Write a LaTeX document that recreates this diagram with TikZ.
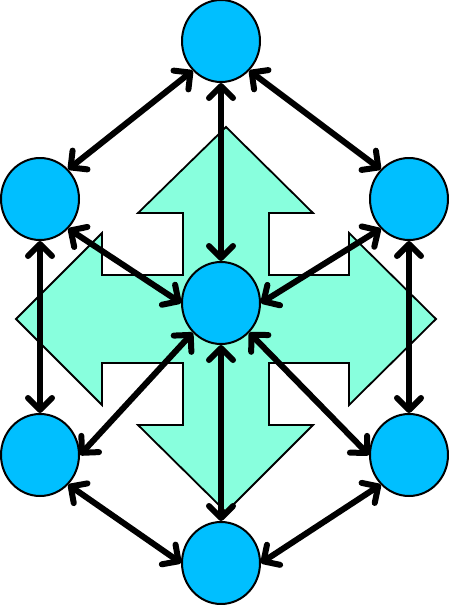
\documentclass[tikz,border=0pt]{standalone}
\usetikzlibrary{shapes.geometric,arrows.meta}
\definecolor{bubble}{RGB}{0,191,255}
\definecolor{aqua}{RGB}{136,255,221}
\tikzset{
  bubble/.style={ellipse,draw=black,line width=2pt,fill=bubble,minimum width=78pt,minimum height=82pt,inner sep=0pt},
  barb/.tip={Straight Barb[length=12pt,width=24pt,line width=6pt,line cap=round,line join=round]},
  link/.style={line width=6pt,line cap=round,line join=round,barb-barb},
  bigarrow/.style={fill=aqua,draw=black,line width=1.8pt,line join=miter}
}
\begin{document}
\begin{tikzpicture}[x=1pt,y=-1pt]
\useasboundingbox (0,0) rectangle (449,605);
\draw[bigarrow] (226,127) -- (313,213) -- (269,213) -- (269,275) -- (349,275) -- (349,233)
  -- (436,319) -- (349,405) -- (349,363) -- (269,363) -- (269,425) -- (313,425)
  -- (226,512) -- (138,425) -- (183,425) -- (183,363) -- (102,363) -- (102,405)
  -- (16,319) -- (102,233) -- (102,275) -- (183,275) -- (183,213) -- (138,213) -- cycle;
\node[bubble] (t) at (221,41) {};
\node[bubble] (lt) at (40,199) {};
\node[bubble] (rt) at (409,199) {};
\node[bubble] (c) at (221,303) {};
\node[bubble] (lb) at (40,455) {};
\node[bubble] (rb) at (409,455) {};
\node[bubble] (b) at (221,563) {};
\draw[link] (t.south west) -- (lt.north east);
\draw[link] (t.south east) -- (rt.north west);
\draw[link] (t.south) -- (c.north);
\draw[link] (lt.south) -- (lb.north);
\draw[link] (rt.south) -- (rb.north);
\draw[link] (lt.south east) -- (c.west);
\draw[link] (rt.south west) -- (c.east);
\draw[link] (c.south west) -- (lb.east);
\draw[link] (c.south east) -- (rb.west);
\draw[link] (c.south) -- (b.north);
\draw[link] (lb.south east) -- (b.west);
\draw[link] (rb.south west) -- (b.east);
\end{tikzpicture}
\end{document}
